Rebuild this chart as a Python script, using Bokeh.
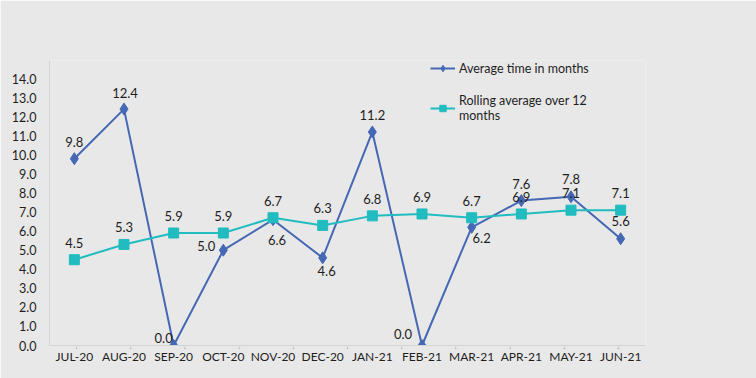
from bokeh.plotting import figure
from bokeh.core.properties import value
from bokeh.models import (FactorRange, Range1d, CategoricalAxis, FixedTicker, NumeralTickFormatter,
                          ColumnDataSource, LabelSet, Legend, LegendItem)
from bokeh.embed import file_html
from bokeh.resources import INLINE

months = ["JUL-20", "AUG-20", "SEP-20", "OCT-20", "NOV-20", "DEC-20",
          "JAN-21", "FEB-21", "MAR-21", "APR-21", "MAY-21", "JUN-21"]
avg_time = [9.8, 12.4, 0.0, 5.0, 6.6, 4.6, 11.2, 0.0, 6.2, 7.6, 7.8, 5.6]
rolling_avg = [4.5, 5.3, 5.9, 5.9, 6.7, 6.3, 6.8, 6.9, 6.7, 6.9, 7.1, 7.1]
y_ticks = list(range(0, 15))

# label offsets (style): pixels, positive y = up
avg_dx = [0, 1, -10, -17, 4, 4, 0, -19, 10, 0, 0, 0]
avg_dy = [17, 16, 8, 4, -20, -13, 17, 12, -11, 17, 18, 18]
roll_dx = [0] * 12
roll_dy = [17] * 12

BG = "#e8e8e8"
BLUE = "#4468b4"
TEAL = "#20bcbf"
GREY = "#d4d4d4"
FONT = "Lato"
TXT = "#1e1e1e"

p = figure(width=756, height=378, x_range=FactorRange(*months), y_range=Range1d(0, 14.95),
           output_backend="svg", toolbar_location=None,
           min_border_left=49, min_border_right=111, min_border_top=60, min_border_bottom=33)
p.background_fill_color = BG
p.border_fill_color = BG
p.outline_line_color = None
p.grid.visible = False

# y axis
p.yaxis.ticker = FixedTicker(ticks=y_ticks)
p.yaxis.formatter = NumeralTickFormatter(format="0.0")
p.yaxis.major_tick_line_color = None
p.yaxis.minor_tick_line_color = None
p.yaxis.axis_line_color = GREY
p.yaxis.major_label_text_font = FONT
p.yaxis.major_label_text_font_size = "12.5px"
p.yaxis.major_label_text_color = TXT
p.yaxis.major_label_standoff = 7

# x axis (labels only)
cat_axis = p.xaxis[0]
cat_axis.axis_line_color = None
cat_axis.major_tick_line_color = None
cat_axis.major_label_text_font = FONT
cat_axis.major_label_text_font_size = "12px"
cat_axis.major_label_text_color = TXT
cat_axis.major_label_standoff = -10

# boundary tick axis: one pseudo-factor per category boundary, aligned to the same frame
bounds = [f"b{i}" for i in range(len(months) + 1)]
p.extra_x_ranges = {"bounds": FactorRange(*bounds, range_padding=-1.0,
                                          range_padding_units="absolute")}
tick_axis = CategoricalAxis(x_range_name="bounds",
                            axis_line_color=GREY, major_tick_line_color=GREY,
                            major_tick_out=3, major_tick_in=0, minor_tick_line_color=None,
                            major_label_overrides={b: "" for b in bounds},
                            major_label_text_font_size="1px", major_label_standoff=0)
p.add_layout(tick_axis, "below")
p.below = [tick_axis, cat_axis]

src_a = ColumnDataSource(dict(x=months, y=avg_time, lab=[f"{v:.1f}" for v in avg_time],
                              dx=avg_dx, dy=avg_dy))
src_r = ColumnDataSource(dict(x=months, y=rolling_avg, lab=[f"{v:.1f}" for v in rolling_avg],
                              dx=roll_dx, dy=roll_dy))

la = p.line("x", "y", source=src_a, line_color=BLUE, line_width=2)
ma = p.scatter("x", "y", source=src_a, marker="diamond", size=12, fill_color=BLUE, line_color=BLUE)
lr = p.line("x", "y", source=src_r, line_color=TEAL, line_width=2)
mr = p.scatter("x", "y", source=src_r, marker="square", size=10, fill_color=TEAL, line_color=TEAL)

for src in (src_r, src_a):
    p.add_layout(LabelSet(x="x", y="y", text="lab", source=src, x_offset="dx", y_offset="dy",
                          text_align="center", text_baseline="middle",
                          text_font=value(FONT), text_font_size=value("13px"),
                          text_color=TXT))

legend = Legend(items=[LegendItem(label="Average time in months", renderers=[la, ma]),
                       LegendItem(label="Rolling average over 12\nmonths", renderers=[lr, mr])],
                location=(381, 222), background_fill_alpha=0, border_line_color=None,
                padding=0, margin=0, spacing=17, glyph_width=25, glyph_height=16,
                label_standoff=4, label_text_font=FONT, label_text_font_size="12.5px",
                label_text_color=TXT)
p.add_layout(legend, "center")

open("out.html", "w").write(file_html(p, INLINE))
